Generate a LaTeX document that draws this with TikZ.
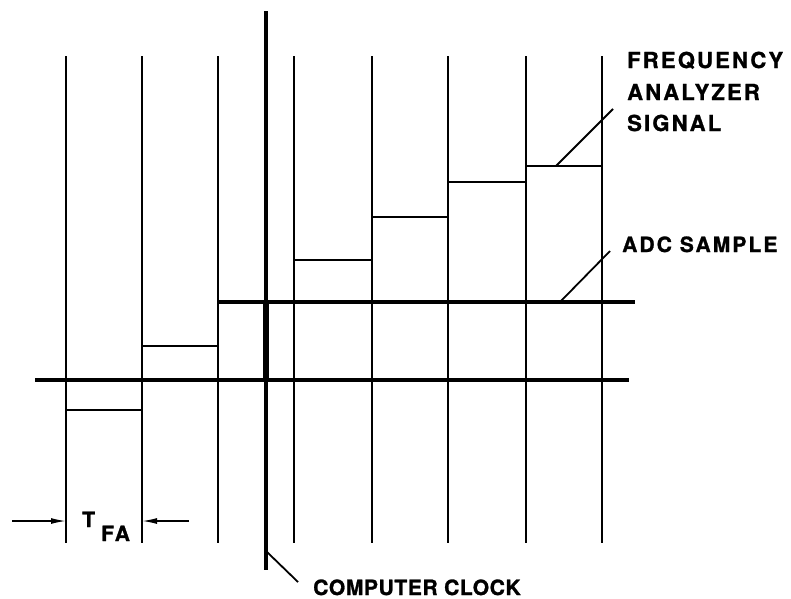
\documentclass[tikz,border=0pt]{standalone}
\usepackage{fontspec}
\setmainfont{TeX Gyre Heros}
\newfontfamily\lblfam{TeX Gyre Heros}[LetterSpace=10,BoldFeatures={FakeBold=1.2}]
\newfontfamily\clkfam{TeX Gyre Heros}[LetterSpace=3,BoldFeatures={FakeBold=1.2}]
\usetikzlibrary{arrows.meta}
\begin{document}
\begin{tikzpicture}[x=1pt,y=-1pt,
  grid/.style={line width=1.8pt},
  stepline/.style={line width=2.2pt},
  axisline/.style={line width=3.5pt},
  clockline/.style={line width=4.5pt},
  lead/.style={line width=1.8pt},
  dimarrow/.style={line width=1.5pt,-{Latex[length=15pt,width=6pt]}},
  lbl/.style={anchor=base west,inner sep=0pt,font=\lblfam\bfseries\fontsize{21}{25}\selectfont},
  clklbl/.style={anchor=base west,inner sep=0pt,font=\clkfam\bfseries\fontsize{21}{25}\selectfont},
  biglbl/.style={anchor=base west,inner sep=0pt,font=\lblfam\bfseries\fontsize{22}{26}\selectfont}]
\useasboundingbox (0,0) rectangle (791,598);
% vertical sampling lines
\foreach \i/\x in {1/66,2/142,3/218,4/294,5/372,6/448,7/526,8/602}{
  \coordinate (t\i) at (\x,56);
  \coordinate (b\i) at (\x,543);
  \draw[grid] (t\i) -- (b\i);
}
% axis and ADC sample level
\coordinate (axL) at (35,380);
\coordinate (axR) at (629,380);
\draw[axisline] (axL) -- (axR);
\coordinate (adcL) at (218,302);
\coordinate (adcR) at (635,302);
\draw[axisline] (adcL) -- (adcR);
% computer clock
\coordinate (ckT) at (266,11);
\coordinate (ckB) at (266,570);
\draw[clockline] (ckT) -- (ckB);
\draw[line width=6.5pt] (266,302) -- (266,380);
% frequency analyzer steps
\draw[stepline] (66,410) -- (142,410);
\draw[stepline] (142,346) -- (218,346);
\draw[stepline] (294,260) -- (372,260);
\draw[stepline] (372,217) -- (448,217);
\draw[stepline] (448,182) -- (526,182);
\draw[stepline] (526,166) -- (602,166);
% T_FA dimension arrows
\coordinate (aL) at (12,521);
\coordinate (aLe) at (66,521);
\coordinate (aR) at (189,521);
\coordinate (aRe) at (142,521);
\draw[dimarrow] (aL) -- (aLe);
\draw[dimarrow] (aR) -- (aRe);
\node[lbl] (tfa) at (82,527) {T};
\node[lbl] (tfasub) at (101,541) {FA};
% labels
\node[biglbl] (fa1) at (627,68) {FREQUENCY};
\node[biglbl] (fa2) at (627,100) {ANALYZER};
\node[biglbl] (fa3) at (627,131) {SIGNAL};
\node[lbl] (adc) at (622,252) {ADC SAMPLE};
\node[clklbl] (clk) at (313,595) {COMPUTER CLOCK};
% leaders
\coordinate (l1a) at (556,166);
\coordinate (l1b) at (613,109);
\draw[lead] (l1a) -- (l1b);
\coordinate (l2a) at (560,302);
\coordinate (l2b) at (610,251);
\draw[lead] (l2a) -- (l2b);
\coordinate (l3a) at (266,551);
\coordinate (l3b) at (298,582);
\draw[lead] (l3a) -- (l3b);
\end{tikzpicture}
\end{document}
